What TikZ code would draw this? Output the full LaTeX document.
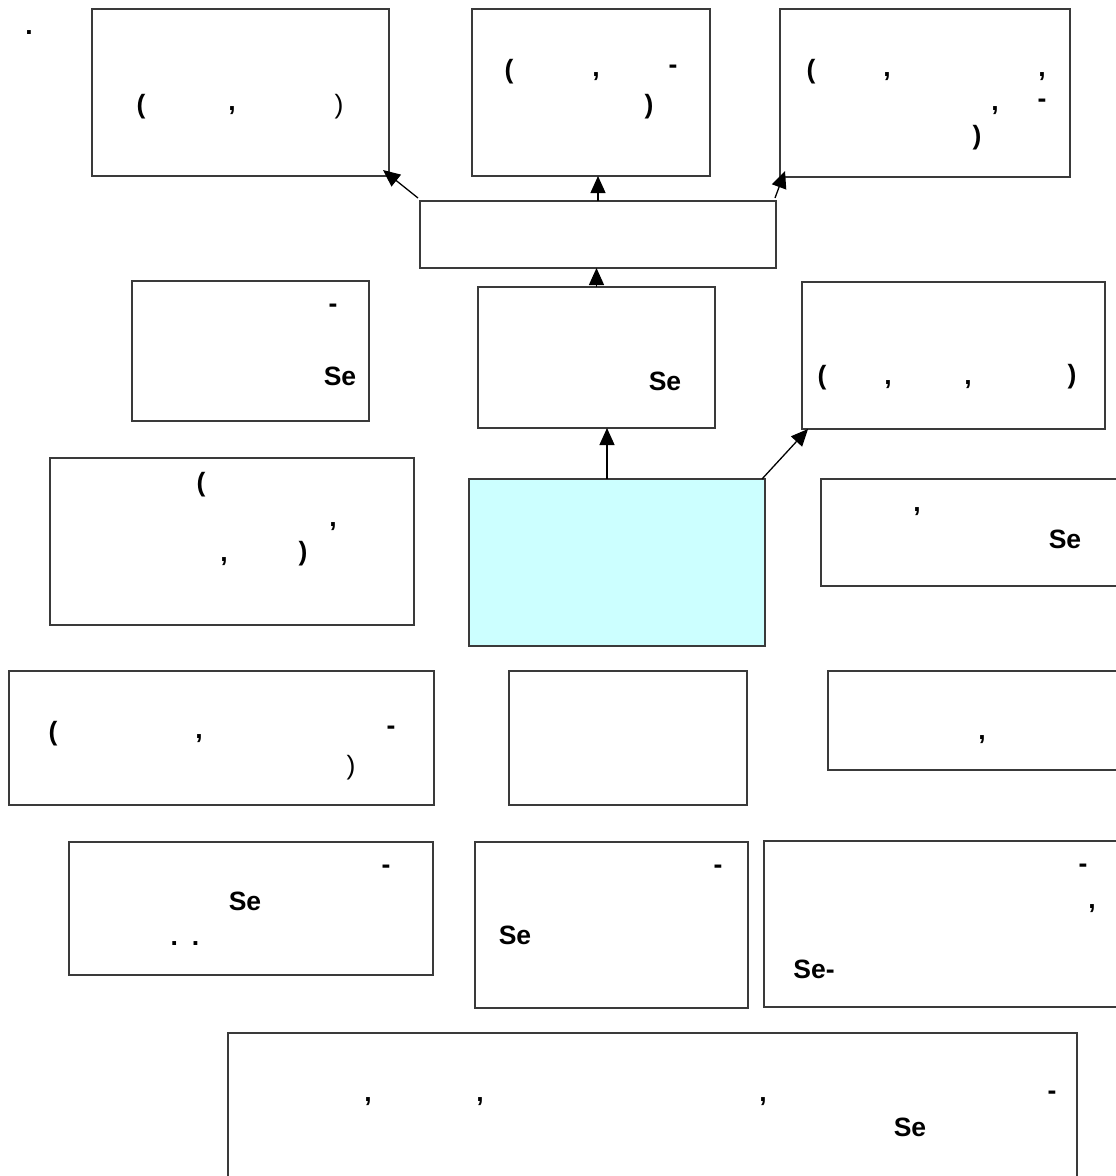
\documentclass[tikz,border=0pt]{standalone}
\usepackage{fontspec}
\setmainfont{Liberation Sans}
\usepackage{tikz}
\usetikzlibrary{arrows.meta,positioning}
\usepackage{xcolor}
\definecolor{edge}{HTML}{3A3A3A}
\definecolor{corefill}{HTML}{CCFFFF}
\newcommand{\fragfont}{\fontsize{26.5}{30}\selectfont\bfseries}
\newcommand{\fragthin}{\fontsize{26.5}{30}\selectfont\mdseries}
\tikzset{
  box/.style={draw=edge, fill=white, line width=1.1pt, inner sep=0pt, outer sep=0pt},
  corebox/.style={box, fill=corefill},
  ar/.style={-{Triangle[length=17pt,width=15pt]}, line width=1.3pt, draw=black},
  frag/.style={font=\fragfont, inner sep=0pt},
  fragthin/.style={font=\fragthin, inner sep=0pt}
}

\begin{document}
\begin{tikzpicture}[x=1pt,y=-1pt]
  \useasboundingbox (0,0) rectangle (1116,1176);
  % boxes
  \node[box, minimum width=297pt, minimum height=167pt] (b1) at (240.5,92.5) {};
  \node[box, minimum width=238pt, minimum height=167pt] (b2) at (591,92.5) {};
  \node[box, minimum width=290pt, minimum height=168pt] (b3) at (925,93) {};
  \node[box, minimum width=356pt, minimum height=67pt] (mid) at (598,234.5) {};
  \node[box, minimum width=237pt, minimum height=140pt] (b4) at (250.5,351) {};
  \node[box, minimum width=237pt, minimum height=141pt] (b5) at (596.5,357.5) {};
  \node[box, minimum width=303pt, minimum height=147pt] (b6) at (953.5,355.5) {};
  \node[box, minimum width=364pt, minimum height=167pt] (b7) at (232,541.5) {};
  \node[corebox, minimum width=296pt, minimum height=167pt] (core) at (617,562.5) {};
  \node[box, minimum width=297pt, minimum height=107pt] (b8) at (969.5,532.5) {};
  \node[box, minimum width=425pt, minimum height=134pt] (b9) at (221.5,738) {};
  \node[box, minimum width=238pt, minimum height=134pt] (b10) at (628,738) {};
  \node[box, minimum width=290pt, minimum height=99pt] (b11) at (973,720.5) {};
  \node[box, minimum width=364pt, minimum height=133pt] (b12) at (251,908.5) {};
  \node[box, minimum width=273pt, minimum height=166pt] (b13) at (611.5,925) {};
  \node[box, minimum width=354pt, minimum height=166pt] (b14) at (941,924) {};
  \node[box, minimum width=849pt, minimum height=147pt] (b15) at (652.5,1106.5) {};

  % stray marks that survive in the labels
  \node[frag] (dot) at (29,33) {.};
  \node[frag] (t1a) at (141,107) {(};
  \node[frag] (t1b) at (232,111) {,};
  \node[fragthin] (t1c) at (339,107) {)};
  \node[frag] (t2a) at (509,72) {(};
  \node[frag] (t2b) at (596,77) {,};
  \node[frag] (t2c) at (673,69) {-};
  \node[frag] (t2d) at (649,107) {)};
  \node[frag] (t3a) at (811,72) {(};
  \node[frag] (t3b) at (887,77) {,};
  \node[frag] (t3c) at (1042,77) {,};
  \node[frag] (t3d) at (995,111) {,};
  \node[frag] (t3e) at (1042,103) {-};
  \node[frag] (t3f) at (977,138) {)};
  \node[frag] (t4a) at (333,308) {-};
  \node[frag] (t4b) at (340,376) {Se};
  \node[frag] (t5a) at (665,381) {Se};
  \node[frag] (t6a) at (822,378) {(};
  \node[frag] (t6b) at (888,385) {,};
  \node[frag] (t6c) at (968,385) {,};
  \node[frag] (t6d) at (1072,377) {)};
  \node[frag] (t7a) at (201,485) {(};
  \node[frag] (t7b) at (333,527) {,};
  \node[frag] (t7c) at (224,562) {,};
  \node[frag] (t7d) at (303,554) {)};
  \node[frag] (t8a) at (917,512) {,};
  \node[frag] (t8b) at (1065,539) {Se};
  \node[frag] (t9a) at (53,734) {(};
  \node[frag] (t9b) at (199,739) {,};
  \node[frag] (t9c) at (391,730) {-};
  \node[fragthin] (t9d) at (351,768) {)};
  \node[frag] (t11a) at (982,740) {,};
  \node[frag] (t12a) at (386,869) {-};
  \node[frag] (t12b) at (245,901) {Se};
  \node[frag] (t12c) at (185,944) {.\hspace{14pt}.};
  \node[frag] (t13a) at (718,869) {-};
  \node[frag] (t13b) at (515,935) {Se};
  \node[frag] (t14a) at (1083,868) {-};
  \node[frag] (t14b) at (1092,909) {,};
  \node[frag] (t14c) at (814,969) {Se-};
  \node[frag] (t15a) at (368,1102) {,};
  \node[frag] (t15b) at (480,1102) {,};
  \node[frag] (t15c) at (763,1102) {,};
  \node[frag] (t15d) at (1052,1095) {-};
  \node[frag] (t15e) at (910,1127) {Se};

  % connectors
  \draw[ar] ([shift={(-2,-3)}]mid.north west) -- ([shift={(-6,-6)}]b1.south east);
  \draw[ar] (mid.north) -- (mid.north |- b2.south);
  \draw[ar] ([shift={(-1,-3)}]mid.north east) -- ([shift={(5,-6)}]b3.south west);
  \draw[ar] (b5.north) -- (b5.north |- mid.south);
  \draw[ar] ([xshift=-10pt]core.north) -- ([xshift=-10pt]core.north |- b5.south);
  \draw[ar] ([xshift=-3pt]core.north east) -- ([xshift=6pt]b6.south west);
\end{tikzpicture}
\end{document}
